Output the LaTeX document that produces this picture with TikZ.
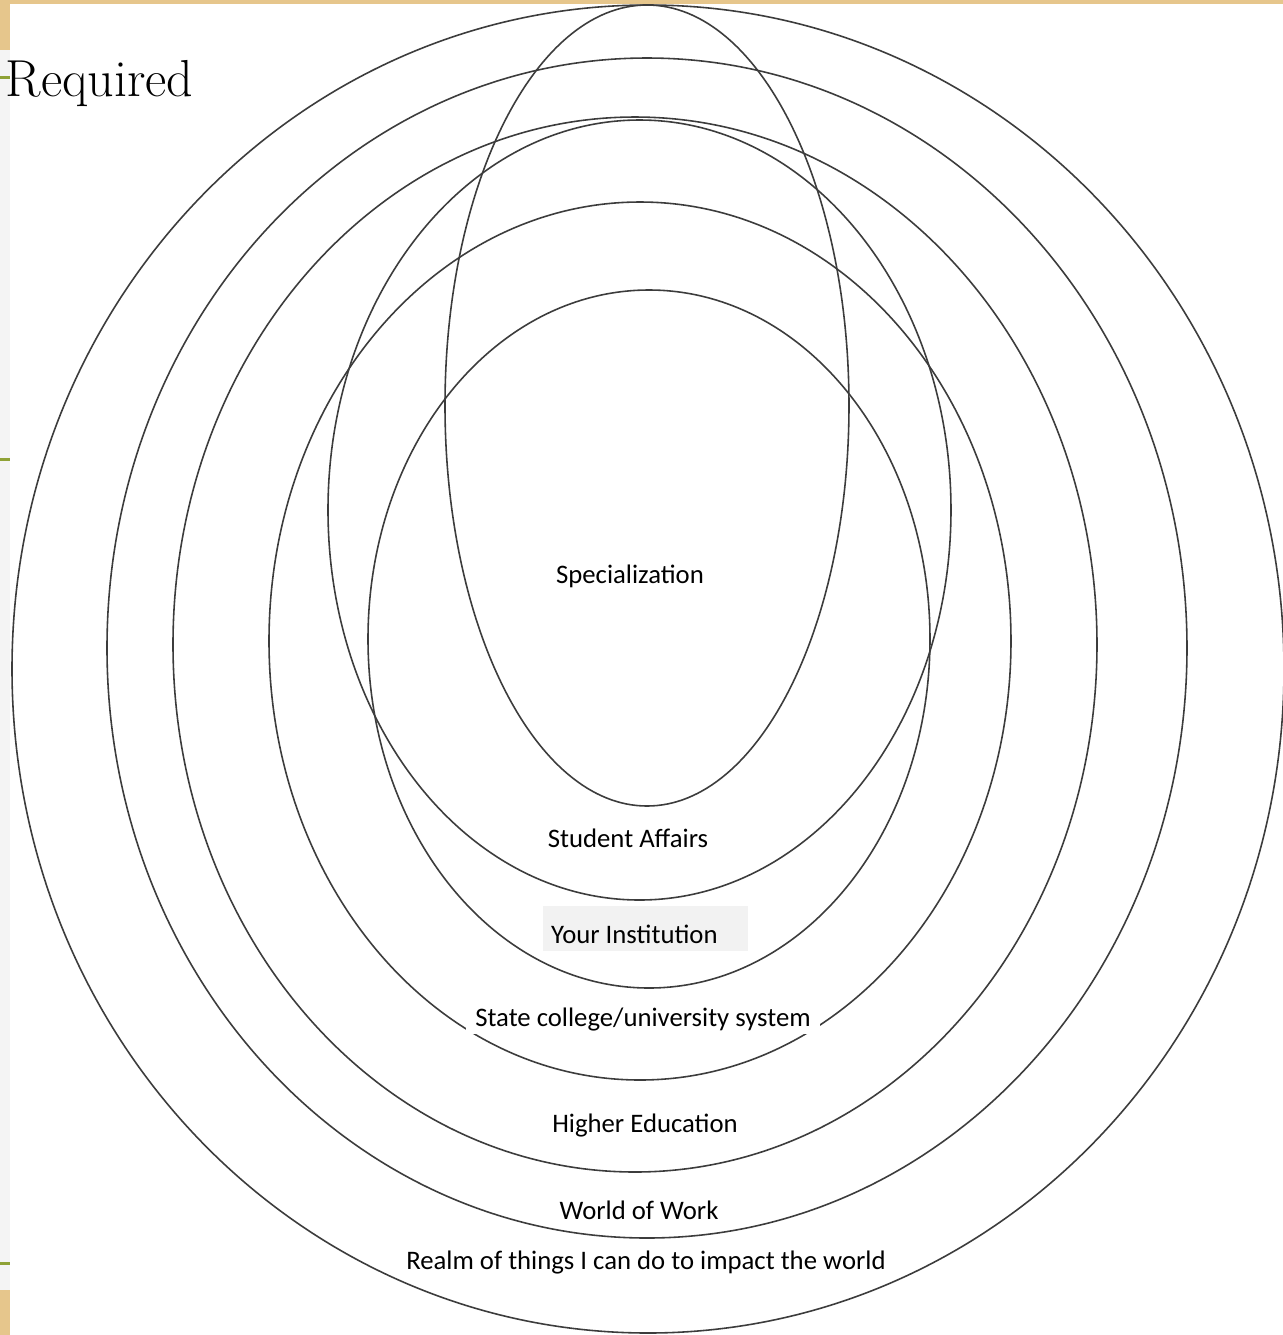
\documentclass[tikz,border=0pt]{standalone}
\usepackage{fontspec}
\setmainfont{Carlito}
\newfontfamily\reqfont{Latin Modern Roman}
\definecolor{beige}{HTML}{E6C68C}
\definecolor{leftgrey}{HTML}{F4F4F4}
\definecolor{olive}{HTML}{8FA236}
\definecolor{ring}{HTML}{3C3C3C}
\definecolor{boxgrey}{HTML}{F2F2F2}
\tikzset{
  ringline/.style={draw=ring, line width=0.45pt},
  lbl/.style={font=\fontsize{7.6}{8}\selectfont, text=black, inner sep=1pt},
}
\begin{document}
\begin{tikzpicture}[x=0.01cm, y=-0.01cm]
\useasboundingbox (0,0) rectangle (1283,1335);
% background
\fill[white] (0,0) rectangle (1283,1335);
\fill[beige] (0,0) rectangle (1283,4);
\fill[beige] (0,0) rectangle (10,50);
\fill[leftgrey] (0,50) rectangle (10,1290);
\fill[beige] (0,1290) rectangle (10,1335);
\fill[olive] (0,75.5) rectangle (10,78.5);
\fill[olive] (0,457.5) rectangle (10,460.5);
\fill[olive] (0,1261.5) rectangle (10,1264.5);
% title
\node[anchor=base west, inner sep=0pt, font=\reqfont\fontsize{14.8}{16}\selectfont] (req) at (5,96) {Required};
% rings
\draw[ringline] (648,669) ellipse [x radius=636, y radius=664];
\draw[ringline] (647,648) ellipse [x radius=540, y radius=590];
\draw[ringline] (635,644.5) ellipse [x radius=462, y radius=527.5];
\draw[ringline] (640,641) ellipse [x radius=371, y radius=439];
\draw[ringline] (649,639) ellipse [x radius=281, y radius=349];
\draw[ringline] (639.5,510) ellipse [x radius=311.5, y radius=390];
\draw[ringline] (647,405.5) ellipse [x radius=202, y radius=400.5];
% labels
\node[lbl] (spec) at (630,576) {Specialization};
\node[lbl] (sa) at (628,838) {Student Affairs};
\node[fill=boxgrey, minimum width=2.05cm, minimum height=0.45cm, inner sep=0pt] (instbox) at (645.5,928.5) {};
\node[lbl, anchor=west] (inst) at (547,934) {Your Institution};
\node[lbl, fill=white, inner xsep=2.6pt, inner ysep=0.6pt] (state) at (643,1020) {State college/university system};
\node[lbl] (he) at (645,1126) {Higher Education};
\node[lbl] (wow) at (639,1210) {World of Work};
\node[lbl] (realm) at (646,1262) {Realm of things I can do to impact the world};
\end{tikzpicture}
\end{document}
